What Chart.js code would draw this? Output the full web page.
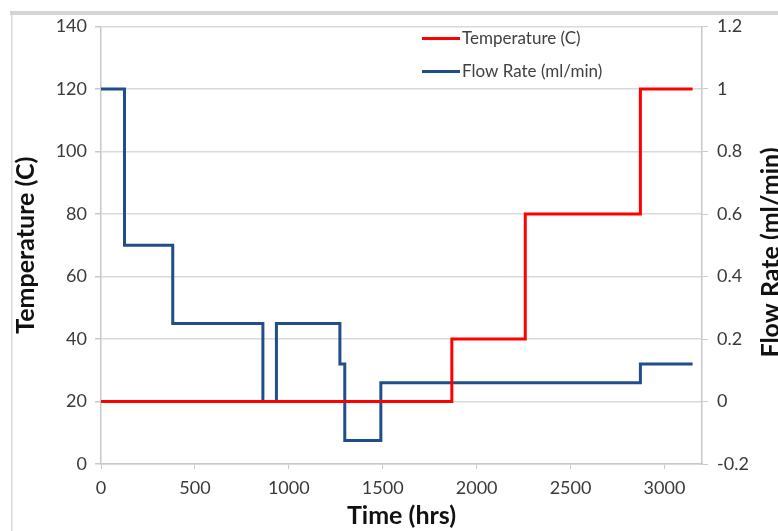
<!DOCTYPE html>
<html>
<head>
<meta charset="utf-8">
<script src="https://cdn.jsdelivr.net/npm/chart.js@4/dist/chart.umd.min.js"></script>
<style>
  html, body { margin: 0; padding: 0; background: #fff; }
  #wrap { width: 778px; height: 531px; position: relative; }
</style>
</head>
<body>
<div id="wrap"><canvas id="c" width="778" height="531"></canvas></div>
<script>
// ---- data ----
const tempTimes = [0, 1868, 2259, 2872, 3150];
const tempValues = [20, 40, 80, 120, 120];
const flowTimes = [0, 125, 382, 862, 934, 1272, 1298, 1490, 2872, 3150];
const flowValues = [1, 0.5, 0.25, 0, 0.25, 0.12, -0.125, 0.06, 0.12, 0.12];
const xTickValues = [0, 500, 1000, 1500, 2000, 2500, 3000];
const seriesNames = ['Temperature (C)', 'Flow Rate (ml/min)'];
const xTitle = 'Time (hrs)';
const yLeftTitle = 'Temperature (C)';
const yRightTitle = 'Flow Rate (ml/min)';

const RED = '#ff0000';
const BLUE = '#1f4e8a';
const FONT = 'Lato, "Open Sans", "DejaVu Sans", sans-serif';

const toPoints = (xs, ys) => xs.map((x, i) => ({ x: x, y: ys[i] }));

const framePlugin = {
  id: 'frame',
  beforeDraw(chart) {
    const ctx = chart.ctx;
    ctx.save();
    ctx.fillStyle = '#d4d4d4';
    ctx.fillRect(10, 11, 768, 4);
    ctx.fillStyle = '#dadada';
    ctx.fillRect(11, 15, 1.5, 516);
    ctx.restore();
  }
};

const legendPlugin = {
  id: 'customLegend',
  afterDraw(chart) {
    const ctx = chart.ctx;
    ctx.save();
    const rows = [38.5, 71.5];
    chart.data.datasets.forEach((ds, i) => {
      const y = rows[i];
      ctx.strokeStyle = ds.borderColor;
      ctx.lineWidth = 3;
      ctx.beginPath();
      ctx.moveTo(422, y);
      ctx.lineTo(460, y);
      ctx.stroke();
      ctx.fillStyle = '#404040';
      ctx.font = '17px ' + FONT;
      ctx.textBaseline = 'middle';
      ctx.textAlign = 'left';
      ctx.fillText(ds.label, 462, y);
    });
    // right axis title, reading bottom-to-top (clipped by the canvas edge like the reference)
    ctx.font = 'bold 25px ' + FONT;
    ctx.fillStyle = '#111';
    ctx.translate(779, 252.5);
    ctx.rotate(-Math.PI / 2);
    ctx.textAlign = 'center';
    ctx.textBaseline = 'alphabetic';
    ctx.fillText(yRightTitle, 0, 0);
    ctx.restore();
  }
};

const tickFont = { family: FONT, size: 18 };
const titleFont = { family: FONT, size: 25, weight: 'bold', lineHeight: 1.2 };
const gridColor = '#d9d9d9';
const axisColor = '#c8c8c8';

new Chart(document.getElementById('c'), {
  type: 'line',
  data: {
    datasets: [
      {
        label: seriesNames[0],
        data: toPoints(tempTimes, tempValues),
        borderColor: RED,
        backgroundColor: RED,
        borderWidth: 3,
        stepped: true,
        pointRadius: 0,
        yAxisID: 'y'
      },
      {
        label: seriesNames[1],
        data: toPoints(flowTimes, flowValues),
        borderColor: BLUE,
        backgroundColor: BLUE,
        borderWidth: 3,
        stepped: true,
        pointRadius: 0,
        yAxisID: 'y2'
      }
    ]
  },
  options: {
    responsive: false,
    animation: false,
    events: [],
    layout: { padding: { top: 26.5, left: 0, right: 0, bottom: 0 } },
    plugins: { legend: { display: false }, tooltip: { enabled: false } },
    scales: {
      x: {
        type: 'linear',
        position: 'bottom',
        min: 0,
        max: 3200,
        afterBuildTicks(s) { s.ticks = xTickValues.map(v => ({ value: v })); },
        ticks: { font: tickFont, color: '#3a3a3a', padding: 8, maxRotation: 0, autoSkip: false, callback: (v) => String(v) },
        grid: { drawOnChartArea: false, drawTicks: true, tickLength: 5, color: axisColor },
        border: { color: axisColor, width: 1.5 },
        title: { display: true, text: xTitle, font: titleFont, color: '#111', padding: { top: 0, bottom: 0 } },
        afterFit(s) { s.height = 67; }
      },
      y: {
        type: 'linear',
        position: 'left',
        min: 0,
        max: 140,
        ticks: { stepSize: 20, font: tickFont, color: '#3a3a3a', padding: 8 },
        grid: { color: gridColor, lineWidth: 1.5, tickLength: 6, tickColor: axisColor },
        border: { color: axisColor, width: 1.5 },
        title: { display: true, text: yLeftTitle, font: titleFont, color: '#111', padding: { top: 11, bottom: 0 } },
        afterFit(s) { s.width = 101; }
      },
      y2: {
        type: 'linear',
        position: 'right',
        min: -0.2,
        max: 1.2,
        ticks: {
          stepSize: 0.2, font: tickFont, color: '#3a3a3a', padding: 9,
          callback: (v) => String(Number(v.toFixed(1)))
        },
        grid: { drawOnChartArea: false, tickLength: 6, color: axisColor },
        border: { color: axisColor, width: 1.5 },
        afterFit(s) { s.width = 76; }
      }
    }
  },
  plugins: [framePlugin, legendPlugin]
});
</script>
</body>
</html>
